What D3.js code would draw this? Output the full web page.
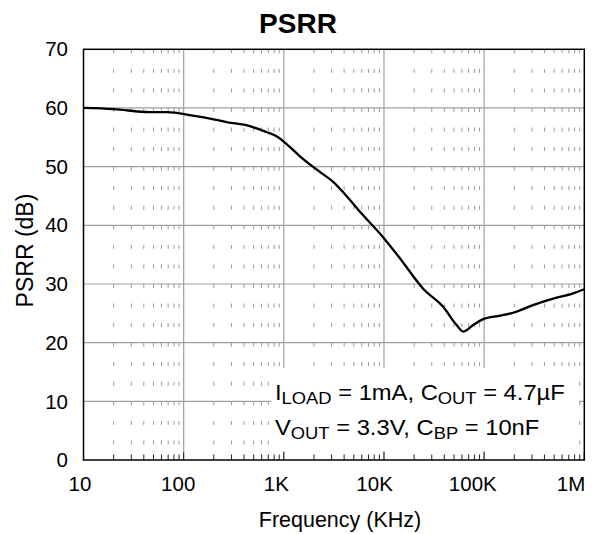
<!DOCTYPE html>
<html><head><meta charset="utf-8">
<script src="https://cdn.jsdelivr.net/npm/d3@7"></script>
<style>body{margin:0;background:#fff}</style>
</head><body><svg id="c" width="602" height="534"></svg>
<script>
// ---- data ----
const freq = [10, 20, 46, 68, 123, 183, 269, 457, 670, 846, 1140, 1440, 2290, 3110, 4580, 5970, 9100, 14400, 24600, 39000, 53100, 61700, 77800, 97700, 145000, 194500, 308000, 488000, 773000, 1000000];
const psrr = [60.0, 59.8, 59.3, 59.3, 58.7, 58.2, 57.6, 56.9, 55.9, 55.2, 53.4, 51.8, 49.1, 47.4, 44.3, 42.0, 38.6, 34.4, 29.2, 26.1, 23.0, 21.9, 23.0, 24.0, 24.6, 25.1, 26.4, 27.5, 28.4, 29.1];
const xTickValues = [10, 100, 1000, 10000, 100000, 1000000];
const xTickLabels = ["10", "100", "1K", "10K", "100K", "1M"];
const yTickValues = [0, 10, 20, 30, 40, 50, 60, 70];
const titleText = "PSRR";
const xTitle = "Frequency (KHz)";
const yTitle = "PSRR (dB)";
const note1 = [["I", false], ["LOAD", true], [" = 1mA, C", false], ["OUT", true], [" = 4.7µF", false]];
const note2 = [["V", false], ["OUT", true], [" = 3.3V, C", false], ["BP", true], [" = 10nF", false]];

// ---- layout ----
const L = 83.5, R = 584.3, T = 49.3, B = 460;
const font = "'Liberation Sans', Arial, sans-serif";
const svg = d3.select("#c");
const x = d3.scaleLog().domain([10, 1e6]).range([L, R]);
const y = d3.scaleLinear().domain([0, 70]).range([B, T]);
const xLab = d3.scaleLog().domain([10, 1e6]).range([80, 571]);

const minor = [];
for (let d = 10; d < 1e6; d *= 10) for (let m = 2; m <= 9; m++) minor.push(d * m);

// minor dashed grid
const period = (B - T) / 21;
svg.append("g").selectAll("line").data(minor).join("line")
  .attr("x1", d => x(d)).attr("x2", d => x(d)).attr("y1", T).attr("y2", B)
  .attr("stroke", "#9a9a9a").attr("stroke-width", 1)
  .attr("stroke-dasharray", `4 ${period - 4}`);

// major grid
svg.append("g").selectAll("line").data(xTickValues.slice(1, -1)).join("line")
  .attr("x1", d => x(d)).attr("x2", d => x(d)).attr("y1", T).attr("y2", B)
  .attr("stroke", "#a0a0a0").attr("stroke-width", 1.2);
svg.append("g").selectAll("line").data(yTickValues.slice(1, -1)).join("line")
  .attr("x1", L).attr("x2", R).attr("y1", d => y(d)).attr("y2", d => y(d))
  .attr("stroke", "#a0a0a0").attr("stroke-width", 1.2);

// annotation box (white background)
svg.append("rect").attr("x", 271).attr("y", 368).attr("width", 308).attr("height", 83).attr("fill", "#fff");

// inside ticks on bottom axis
svg.append("g").selectAll("line").data(minor).join("line")
  .attr("x1", d => x(d)).attr("x2", d => x(d)).attr("y1", B).attr("y2", B - 5.5)
  .attr("stroke", "#222").attr("stroke-width", 1);
svg.append("g").selectAll("line").data(xTickValues).join("line")
  .attr("x1", d => x(d)).attr("x2", d => x(d)).attr("y1", B).attr("y2", B - 8)
  .attr("stroke", "#222").attr("stroke-width", 1);

// curve
const pts = freq.map((f, i) => [f, psrr[i]]);
svg.append("path").datum(pts)
  .attr("d", d3.line().x(d => x(d[0])).y(d => y(d[1])).curve(d3.curveMonotoneX))
  .attr("fill", "none").attr("stroke", "#000").attr("stroke-width", 2.3).attr("stroke-linejoin", "round");

// frame
svg.append("rect").attr("x", L).attr("y", T).attr("width", R - L).attr("height", B - T)
  .attr("fill", "none").attr("stroke", "#000").attr("stroke-width", 1.5);

// tick labels
svg.append("g").selectAll("text").data(yTickValues).join("text")
  .attr("x", 68).attr("y", d => y(d)).attr("dy", "0.35em")
  .attr("text-anchor", "end").attr("font-family", font).attr("font-size", 20.5)
  .text(d => d);
svg.append("g").selectAll("text").data(xTickValues).join("text")
  .attr("x", d => xLab(d)).attr("y", 490.7)
  .attr("text-anchor", "middle").attr("font-family", font).attr("font-size", 20.5)
  .text((d, i) => xTickLabels[i]);

// titles
svg.append("text").attr("x", 298).attr("y", 32.7).attr("text-anchor", "middle")
  .attr("font-family", font).attr("font-weight", "bold").attr("font-size", 28).text(titleText);
svg.append("text").attr("x", 340).attr("y", 527.3).attr("text-anchor", "middle")
  .attr("font-family", font).attr("font-size", 21.5).text(xTitle);
svg.append("text").attr("transform", "translate(33.3,250.5) rotate(-90)").attr("text-anchor", "middle")
  .attr("font-family", font).attr("font-size", 23).text(yTitle);

// annotation
function note(parts, yb) {
  const t = svg.append("text").attr("transform", `translate(275,${yb}) scale(1.08,1)`)
    .attr("font-family", font).attr("font-size", 22);
  let sub = false;
  parts.forEach(([s, isSub]) => {
    const sp = t.append("tspan").text(s);
    if (isSub && !sub) sp.attr("dy", 4).attr("font-size", 17);
    else if (!isSub && sub) sp.attr("dy", -4);
    else if (isSub) sp.attr("font-size", 17);
    sub = isSub;
  });
}
note(note1, 400);
note(note2, 434.7);
</script></body></html>
